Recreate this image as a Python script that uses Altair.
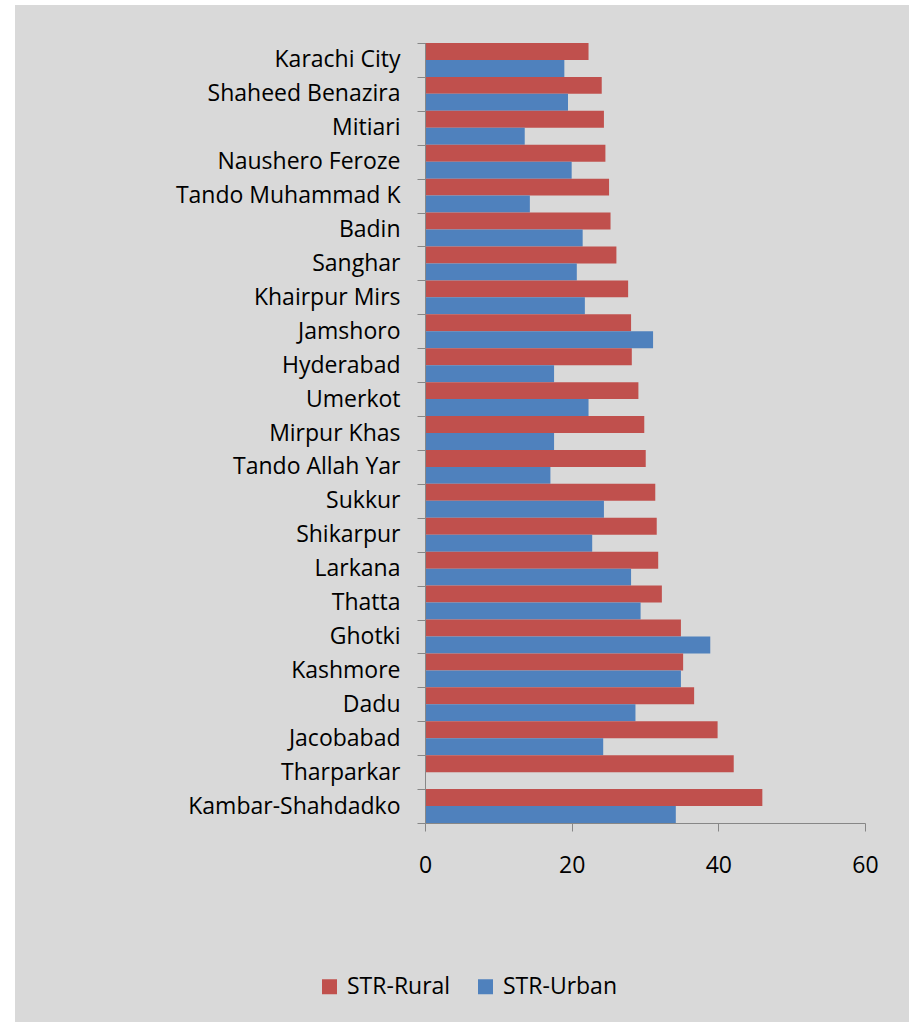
import altair as alt
import pandas as pd

# Districts of Sindh, top to bottom
districts = [
    "Karachi City", "Shaheed Benazira", "Mitiari", "Naushero Feroze",
    "Tando Muhammad K", "Badin", "Sanghar", "Khairpur Mirs", "Jamshoro",
    "Hyderabad", "Umerkot", "Mirpur Khas", "Tando Allah Yar", "Sukkur",
    "Shikarpur", "Larkana", "Thatta", "Ghotki", "Kashmore", "Dadu",
    "Jacobabad", "Tharparkar", "Kambar-Shahdadko",
]

# Student-teacher ratios
str_rural = [22.3, 24.1, 24.4, 24.6, 25.1, 25.3, 26.1, 27.7, 28.1, 28.2, 29.1,
             29.9, 30.1, 31.4, 31.6, 31.8, 32.3, 34.9, 35.2, 36.7, 39.9, 42.1, 46.0]
str_urban = [19.0, 19.5, 13.6, 20.0, 14.3, 21.5, 20.7, 21.8, 31.1, 17.6, 22.3,
             17.6, 17.1, 24.4, 22.8, 28.1, 29.4, 38.9, 34.9, 28.7, 24.3, None, 34.2]

series_names = ["STR-Rural", "STR-Urban"]
series_colors = ["#c0504d", "#4f81bd"]

x_ticks = [0, 20, 40, 60]

rows = []
for d, r, u in zip(districts, str_rural, str_urban):
    rows.append({"district": d, "series": series_names[0], "value": r})
    if u is not None:
        rows.append({"district": d, "series": series_names[1], "value": u})
df = pd.DataFrame(rows)

FONT = "Open Sans"
FS = 23
AXIS_GREY = "#878787"
PANEL = "#d9d9d9"

W, H = 440, 780
PAD = {"left": 425, "top": 43, "right": 50, "bottom": 199}

# grey panel behind the whole figure
panel = alt.Chart(alt.Data(values=[{}])).mark_rect(color=PANEL).encode(
    x=alt.value(15 - PAD["left"]),
    x2=alt.value(909 - PAD["left"]),
    y=alt.value(5 - PAD["top"]),
    y2=alt.value(1030 - PAD["top"]),
)

bars = alt.Chart(df).mark_bar(clip=False).encode(
    y=alt.Y(
        "district:N",
        sort=districts,
        scale=alt.Scale(paddingInner=0, paddingOuter=0),
        axis=alt.Axis(
            title=None,
            tickBand="extent",
            tickSize=8,
            tickColor=AXIS_GREY,
            domainColor=AXIS_GREY,
            labelPadding=17,
            labelFont=FONT,
            labelFontSize=FS,
            labelColor="#000000",
            labelLimit=400,
            zindex=1,
        ),
    ),
    yOffset=alt.YOffset(
        "series:N",
        sort=series_names,
        scale=alt.Scale(paddingInner=0, paddingOuter=0),
    ),
    x=alt.X(
        "value:Q",
        scale=alt.Scale(domain=[0, 60], nice=False),
        axis=alt.Axis(
            title=None,
            values=x_ticks,
            grid=False,
            tickSize=8,
            tickColor=AXIS_GREY,
            domainColor=AXIS_GREY,
            labelPadding=23,
            labelFlush=False,
            labelFont=FONT,
            labelFontSize=FS,
            labelColor="#000000",
            zindex=1,
        ),
    ),
    color=alt.Color(
        "series:N",
        sort=series_names,
        scale=alt.Scale(domain=series_names, range=series_colors),
        legend=alt.Legend(
            title=None,
            orient="none",
            direction="horizontal",
            legendX=318 - PAD["left"],
            legendY=975 - PAD["top"],
            symbolType="square",
            symbolSize=225,
            symbolStrokeWidth=0,
            labelFont=FONT,
            labelFontSize=FS,
            labelColor="#000000",
            labelOffset=6,
            columnPadding=23,
        ),
    ),
)

chart = alt.layer(panel, bars).properties(
    width=W,
    height=H,
    padding=PAD,
    autosize=alt.AutoSizeParams(type="none"),
    background="white",
).configure_view(stroke=None)

chart.save("out.html", embed_options={"renderer": "svg", "actions": False})
